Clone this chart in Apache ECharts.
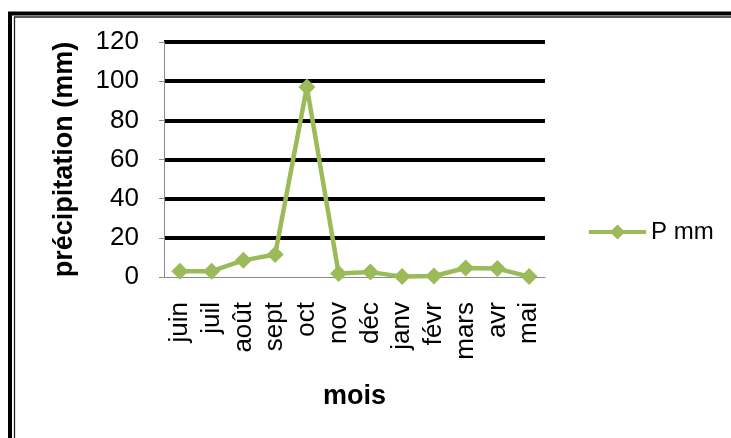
<!DOCTYPE html>
<html>
<head>
<meta charset="utf-8">
<script src="https://cdn.jsdelivr.net/npm/echarts@6/dist/echarts.min.js"></script>
<style>
  html, body { margin: 0; padding: 0; background: #fff; }
  #chart { width: 731px; height: 438px; }
</style>
</head>
<body>
<div id="chart"></div>
<script>
// Monthly precipitation (mm), June to May
const months = ['juin', 'juil', 'août', 'sept', 'oct', 'nov', 'déc', 'janv', 'févr', 'mars', 'avr', 'mai'];
const precipitation = [3, 3, 8.5, 11.5, 97, 1.8, 2.5, 0.2, 0.5, 4.6, 4.3, 0.2];
const seriesName = 'P mm';
const yTicks = [0, 20, 40, 60, 80, 100, 120];

const font = '"Liberation Sans", Arial, sans-serif';
const green = '#9BBB59';

const chart = echarts.init(document.getElementById('chart'), null, { renderer: 'canvas' });

chart.setOption({
  animation: false,
  backgroundColor: '#fff',
  graphic: [
    // double frame around the chart area
    { type: 'rect', shape: { x: 10, y: 13.5, width: 760, height: 460 },
      style: { fill: 'none', stroke: '#000', lineWidth: 4 } },
    { type: 'rect', shape: { x: 14.5, y: 17, width: 760, height: 460 },
      style: { fill: 'none', stroke: '#222', lineWidth: 1.3 } }
  ],
  grid: { left: 164, right: 186, top: 42, height: 235, containLabel: false },
  legend: {
    data: [seriesName],
    left: 582, top: 215,
    itemWidth: 57, itemHeight: 19, itemGap: 0,
    lineStyle: { width: 4 },
    textStyle: { fontFamily: font, fontSize: 24, color: '#000', padding: [0, 0, 0, 0] }
  },
  xAxis: {
    type: 'category',
    data: months,
    boundaryGap: true,
    name: 'mois',
    nameLocation: 'middle',
    nameGap: 106,
    nameTextStyle: { fontFamily: font, fontSize: 27, fontWeight: 'bold', color: '#000' },
    axisLine: { show: true, lineStyle: { color: '#8a8a8a', width: 1 } },
    axisTick: { show: false },
    axisLabel: {
      rotate: 90, interval: 0, margin: 25,
      fontFamily: font, fontSize: 26, color: '#000'
    },
    splitLine: { show: false }
  },
  yAxis: {
    type: 'value',
    min: yTicks[0], max: yTicks[yTicks.length - 1], interval: 20,
    name: 'précipitation (mm)',
    nameLocation: 'middle',
    nameGap: 86,
    nameRotate: 90,
    nameTextStyle: { fontFamily: font, fontSize: 27, fontWeight: 'bold', color: '#000' },
    axisLine: { show: true, lineStyle: { color: '#8a8a8a', width: 1 } },
    axisTick: { show: true, length: 5, lineStyle: { color: '#8a8a8a' } },
    axisLabel: { margin: 25, fontFamily: font, fontSize: 26, color: '#000' },
    splitLine: {
      show: true,
      lineStyle: {
        color: ['rgba(0,0,0,0)', '#000', '#000', '#000', '#000', '#000', '#000'],
        width: 4
      }
    }
  },
  series: [{
    name: seriesName,
    type: 'line',
    data: precipitation,
    symbol: 'diamond',
    symbolSize: 17,
    itemStyle: { color: green },
    lineStyle: { color: green, width: 4.5 }
  }]
});
</script>
</body>
</html>
